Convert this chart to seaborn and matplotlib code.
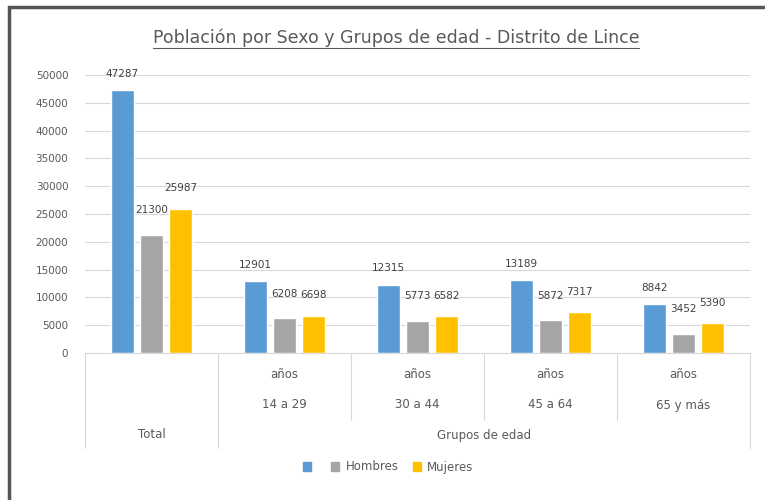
import matplotlib
matplotlib.use("Agg")
import matplotlib.pyplot as plt
import matplotlib.patches as mpatches
from matplotlib.lines import Line2D
import seaborn as sns
import pandas as pd

# ---- data ----
categories = ["Total", "14 a 29", "30 a 44", "45 a 64", "65 y más"]
series = ["Total", "Hombres", "Mujeres"]
total_vals = [47287, 12901, 12315, 13189, 8842]
hombres_vals = [21300, 6208, 5773, 5872, 3452]
mujeres_vals = [25987, 6698, 6582, 7317, 5390]
legend_labels = ["", "Hombres", "Mujeres"]
group_labels = ["Total", "Grupos de edad"]
yticks = [0, 5000, 10000, 15000, 20000, 25000, 30000, 35000, 40000, 45000, 50000]

colors = ["#5B9BD5", "#A5A5A5", "#FFC000"]
txt = "#595959"

rows = []
for name, vals in zip(series, [total_vals, hombres_vals, mujeres_vals]):
    for c, v in zip(categories, vals):
        rows.append({"cat": c, "serie": name, "valor": v})
df = pd.DataFrame(rows)

sns.set_theme(style="white")
plt.rcParams["font.family"] = ["DejaVu Sans"]

W, H = 765, 500
fig = plt.figure(figsize=(W / 100, H / 100), dpi=100)
ax = fig.add_axes([85 / W, 1 - 353 / H, (750 - 85) / W, (353 - 75) / H])

sns.barplot(data=df, x="cat", y="valor", hue="serie", order=categories,
            hue_order=series, palette=colors, width=0.66, gap=0.2,
            saturation=1, ax=ax, legend=False)

ax.set_ylim(0, 50000)
ax.set_xlim(-0.5, len(categories) - 0.5)
ax.set_yticks(yticks)
ax.set_yticklabels([str(t) for t in yticks], fontsize=7.5, color=txt)
ax.yaxis.grid(True, color="#D9D9D9", lw=0.8)
ax.set_axisbelow(True)
ax.set_xticks([])
ax.set_xlabel("")
ax.set_ylabel("")
for s in ["top", "right", "left"]:
    ax.spines[s].set_visible(False)
ax.spines["bottom"].set_color("#D9D9D9")
ax.spines["bottom"].set_linewidth(0.8)
ax.tick_params(axis="y", length=0, pad=12)

# data labels
paddings = [8, 14, 11]
for cont, pad in zip(ax.containers, paddings):
    ax.bar_label(cont, labels=[f"{int(v)}" for v in cont.datavalues],
                 padding=pad, fontsize=7.5, color="#404040")

# multi-level category axis
trans = ax.get_xaxis_transform()
ah = 353 - 75
deep = -(448 - 353) / ah
mid = -(420 - 353) / ah
lc = "#D9D9D9"
for xb in [-0.5, 0.5, 4.5]:
    ax.add_line(Line2D([xb, xb], [0, deep], transform=trans, color=lc, lw=0.8, clip_on=False))
for xb in [1.5, 2.5, 3.5]:
    ax.add_line(Line2D([xb, xb], [0, mid], transform=trans, color=lc, lw=0.8, clip_on=False))
for i, c in enumerate(categories[1:], start=1):
    ax.text(i, -(375 - 353) / ah, "años", transform=trans, ha="center", va="center",
            fontsize=8.5, color=txt)
    ax.text(i, -(405 - 353) / ah, c, transform=trans, ha="center", va="center",
            fontsize=8.5, color=txt)
ax.text(0, -(435 - 353) / ah, group_labels[0], transform=trans, ha="center", va="center",
        fontsize=8.5, color=txt)
ax.text(2.5, -(435 - 353) / ah, group_labels[1], transform=trans, ha="center", va="center",
        fontsize=8.5, color=txt)

# title with underline
t = fig.text(396 / W, 1 - 38 / H, "Población por Sexo y Grupos de edad - Distrito de Lince",
             ha="center", va="center", fontsize=12.5, color=txt)
fig.canvas.draw()
bb = t.get_window_extent(renderer=fig.canvas.get_renderer())
uy = bb.y0 - 1
fig.add_artist(Line2D([bb.x0 / W, bb.x1 / W], [uy / H, uy / H], transform=fig.transFigure,
                      color=txt, lw=0.8))

# legend
handles = [mpatches.Patch(color=c) for c in colors]
fig.legend(handles, legend_labels, loc="center", bbox_to_anchor=(388 / W, 1 - 467 / H),
           ncol=3, frameon=False, fontsize=8.5, handlelength=0.7, handleheight=0.7,
           handletextpad=0.5, columnspacing=1.2, labelcolor=txt)

# outer frame
fig.add_artist(mpatches.Rectangle((9 / W, -0.1), 1.2, 1.1 - 7 / H, transform=fig.transFigure,
                                  fill=False, edgecolor="#555555", lw=2.5))

fig.savefig("out.png", dpi=100)
